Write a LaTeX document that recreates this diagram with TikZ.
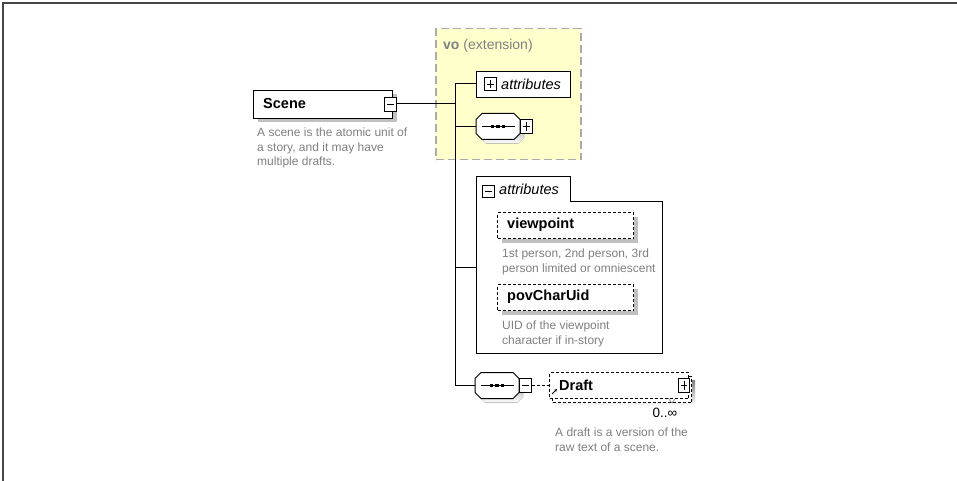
\documentclass[tikz,border=0pt]{standalone}
\usepackage{fontspec}
\setmainfont{Liberation Sans}
\usetikzlibrary{calc,shadows,arrows.meta}

\definecolor{descgray}{RGB}{128,128,128}
\definecolor{shade}{RGB}{192,192,192}
\definecolor{extfill}{RGB}{255,255,204}
\definecolor{extline}{RGB}{170,170,170}
\definecolor{framegray}{RGB}{70,70,70}

\tikzset{
  conn/.style={draw=black, line width=1pt},
  boxshadow/.style={drop shadow={shadow xshift=4pt, shadow yshift=-4pt, fill=shade, opacity=1}},
  elembox/.style={draw=black, line width=1pt, fill=white, inner sep=0pt, anchor=north west},
  optbox/.style={elembox, dash pattern=on 3pt off 2pt},
  elemname/.style={anchor=west, inner sep=0pt, font=\fontsize{14.5}{16}\selectfont\bfseries},
  grpname/.style={anchor=west, inner sep=0pt, font=\fontsize{14.5}{16}\selectfont\itshape},
  desc/.style={anchor=north west, inner sep=0pt, align=left, text=descgray,
               font=\fontsize{12}{14.5}\selectfont},
  pmbox/.style={draw=black, line width=0.8pt, fill=white, inner sep=0pt,
                minimum width=12pt, minimum height=13pt},
  minusbox/.style={pmbox, path picture={
      \draw[line width=0.8pt] ($(path picture bounding box.west)+(2.5,0)$) --
                              ($(path picture bounding box.east)+(-2.5,0)$);}},
  plusbox/.style={pmbox, path picture={
      \draw[line width=0.8pt] ($(path picture bounding box.west)+(2.5,0)$) --
                              ($(path picture bounding box.east)+(-2.5,0)$);
      \draw[line width=0.8pt] ($(path picture bounding box.north)+(0,2.5)$) --
                              ($(path picture bounding box.south)+(0,-2.5)$);}},
  seqanchor/.style={minimum width=44pt, minimum height=26pt, inner sep=0pt}
}

% sequence compositor: octagon with shadow and the three-dot bar
\newcommand\seqsymbol[1]{%
  \begin{scope}[shift={(#1.center)}]
    \fill[shade] (-12,-9) -- (20,-9) -- (26,-3) -- (26,11) -- (20,17)
                 -- (-12,17) -- (-18,11) -- (-18,-3) -- cycle;
    \draw[line width=1pt, fill=white] (-16,-13) -- (16,-13) -- (22,-7) -- (22,7)
                 -- (16,13) -- (-16,13) -- (-22,7) -- (-22,-7) -- cycle;
    \draw[line width=1.2pt] (-16,0) -- (17,0);
    \foreach \d in {-5.5,0,5.5} \fill (\d-1.6,-1.7) rectangle (\d+1.6,1.7);
  \end{scope}}

\begin{document}
\begin{tikzpicture}[x=1pt, y=-1pt]
  \useasboundingbox (0,0) rectangle (957,481);
  \fill[white] (0,0) rectangle (957,481);
  \draw[framegray, line width=1.5pt] (3,481) -- (3,3) -- (957,3);

  % extension group
  \node[draw=extline, fill=extfill, line width=1.5pt, dash pattern=on 8pt off 4pt,
        minimum width=145pt, minimum height=131pt, inner sep=0pt, anchor=north west]
        (ext) at (435,28) {};
  \node[anchor=west, inner sep=0pt, text=descgray, font=\fontsize{14}{16}\selectfont]
        (extlabel) at (443,46) {\textbf{vo} (extension)};

  % trunk junctions
  \coordinate (tA) at (455,84);
  \coordinate (tS) at (455,104);
  \coordinate (tQ) at (455,126.5);
  \coordinate (tG) at (455,267);
  \coordinate (tD) at (455,385.5);

  % root element
  \node[elembox, boxshadow, minimum width=139pt, minimum height=28pt] (scene) at (253,90) {};
  \node[elemname] (scenename) at (263,104) {Scene};
  \node[minusbox, minimum height=14pt] (sceneminus) at (390.5,104) {};
  \node[desc] (scenedesc) at (257,128)
        {A scene is the atomic unit of\\a story, and it may have\\multiple drafts.};

  % inherited attributes (collapsed)
  \node[elembox, minimum width=94pt, minimum height=26pt] (attrA) at (476,71) {};
  \node[plusbox] (attrAplus) at (490.5,84) {};
  \node[grpname] (attrAname) at (501,84) {attributes};

  % inherited sequence (collapsed)
  \node[seqanchor] (seqA) at (498,126.5) {};
  \seqsymbol{seqA}
  \node[plusbox, minimum height=14pt] (seqAplus) at (526,126.5) {};

  % attribute group (expanded)
  \draw[line width=1pt, fill=white] (476,176) -- (570,176) -- (570,201) -- (662,201)
        -- (662,353) -- (476,353) -- cycle;
  \coordinate (grpleft) at (476,267);
  \node[minusbox, minimum height=12pt] (grpminus) at (488,191) {};
  \node[grpname] (grpname) at (499,189) {attributes};

  \node[optbox, boxshadow, minimum width=136pt, minimum height=26pt] (viewpoint) at (497,212) {};
  \node[elemname] (vpname) at (507,225) {viewpoint};
  \node[desc] (vpdesc) at (502,249) {1st person, 2nd person, 3rd\\person limited or omniescent};

  \node[optbox, boxshadow, minimum width=136pt, minimum height=26pt] (pov) at (497,284) {};
  \node[elemname] (povname) at (507,297) {povCharUid};
  \node[desc] (povdesc) at (502,321) {UID of the viewpoint\\character if in-story};

  % own sequence
  \node[seqanchor] (seqB) at (497,385.5) {};
  \seqsymbol{seqB}
  \node[minusbox, minimum height=14pt] (seqBminus) at (525.5,385.5) {};

  % repeated Draft element: stacked boxes
  \fill[shade] (556,380) rectangle (695,406);
  \node[optbox, minimum width=139pt, minimum height=26pt] (draftback) at (552,376) {};
  \node[optbox, minimum width=139pt, minimum height=26pt] (draft) at (549,372) {};
  \node[elemname] (draftname) at (559,385) {Draft};
  \node[plusbox, minimum width=11pt, minimum height=14pt] (draftplus) at (684,385) {};
  \draw[line width=0.8pt, -{Stealth[length=3pt, width=3pt]}] (552,394) -- (557,389);
  \draw[line width=0.6pt, descgray] (668,398) -- (672,403) -- (675,399);
  \node[inner sep=0pt, font=\fontsize{13.5}{15}\selectfont] (occurs) at (665,413) {0..∞};
  \node[desc] (draftdesc) at (555,428) {A draft is a version of the\\raw text of a scene.};

  % connectors
  \draw[conn] (sceneminus.east) -- (tS);
  \draw[conn] (attrA.west |- tA) -- (tA) -- (tD) -- (seqB.west);
  \draw[conn] (tQ) -- (seqA.west);
  \draw[conn] (tG) -- (grpleft);
  \draw[line width=1pt, dash pattern=on 3pt off 2pt] (seqBminus.east) -- (draft.west);
\end{tikzpicture}
\end{document}
